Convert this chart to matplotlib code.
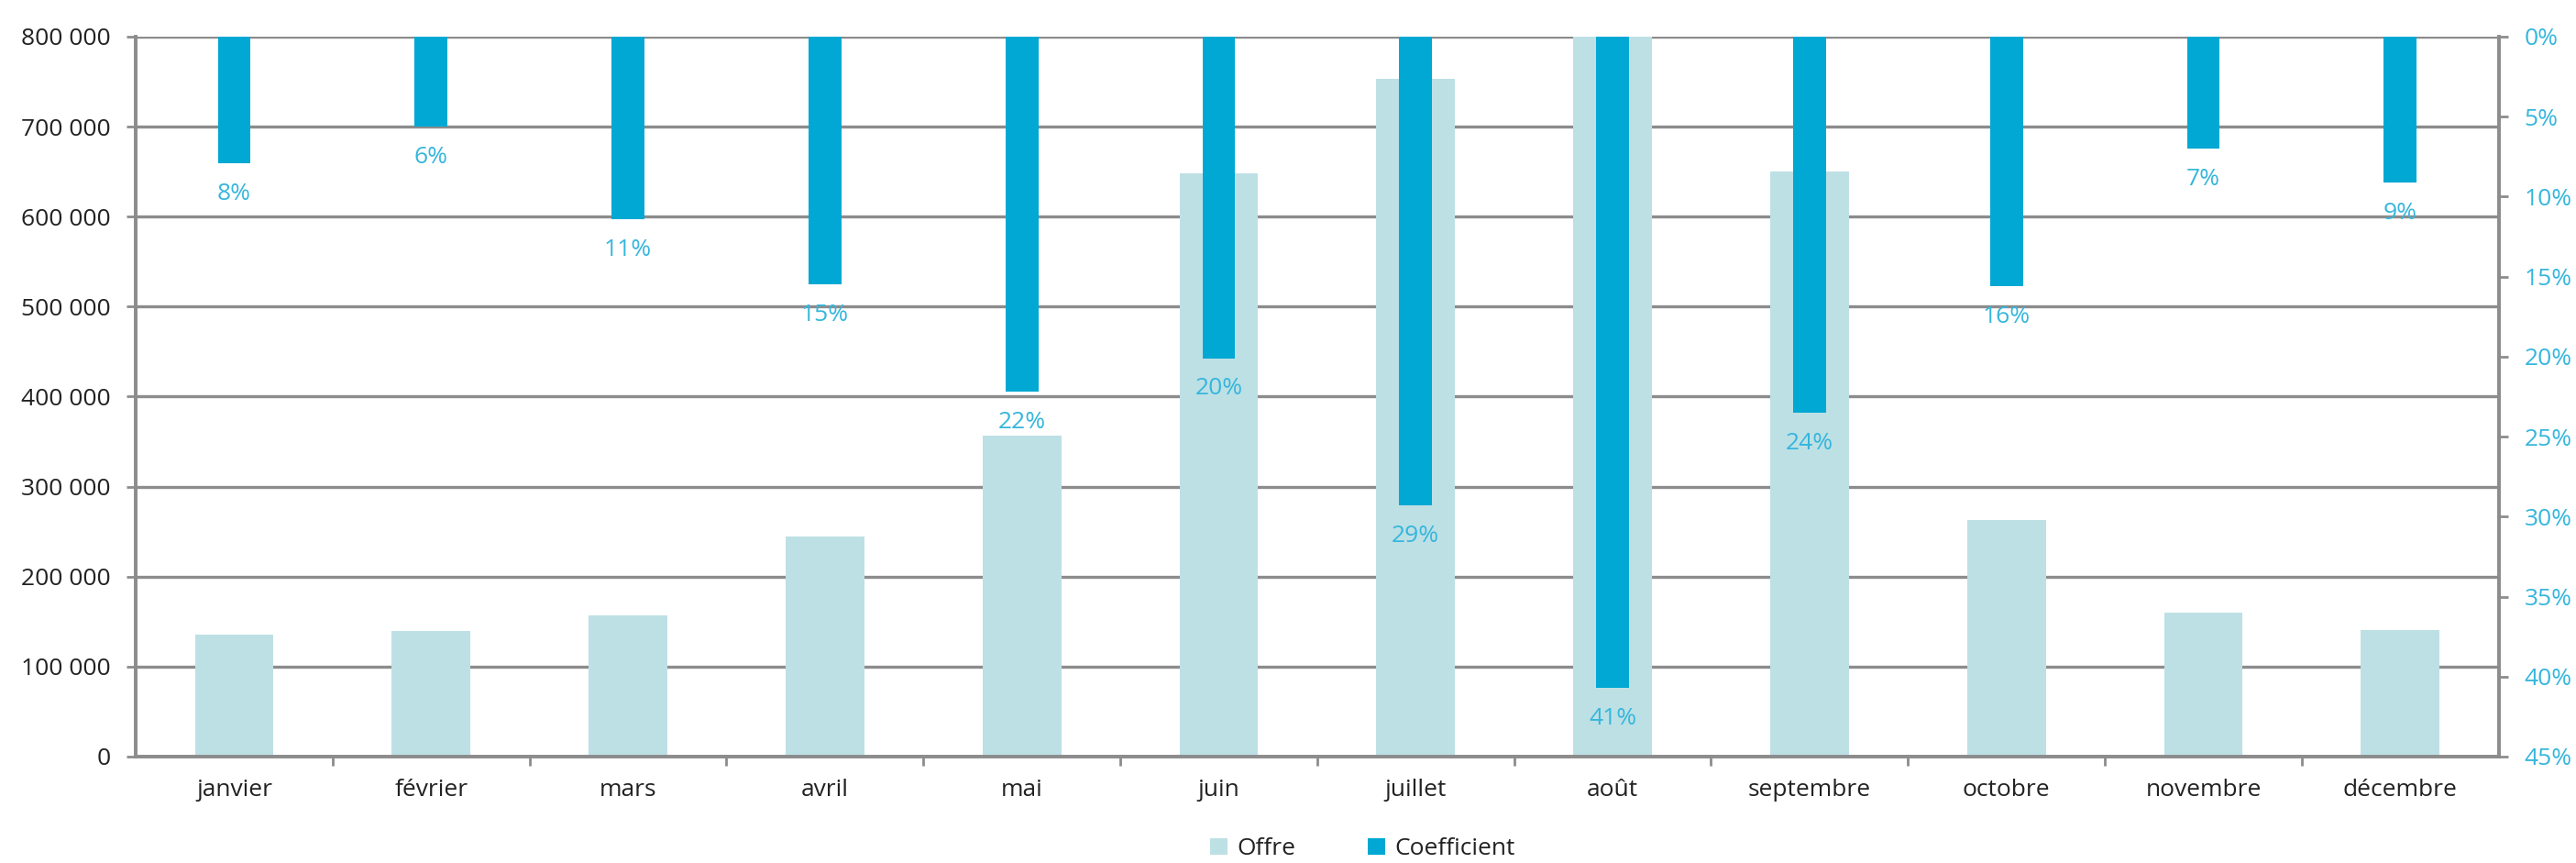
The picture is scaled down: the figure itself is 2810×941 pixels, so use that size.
import matplotlib
matplotlib.use("Agg")
import matplotlib.pyplot as plt
from matplotlib.ticker import FuncFormatter, MultipleLocator, FixedLocator
import numpy as np

months = ["janvier", "février", "mars", "avril", "mai", "juin", "juillet",
          "août", "septembre", "octobre", "novembre", "décembre"]
offre = [136000, 140000, 157000, 245000, 357000, 648000, 753000,
         810000, 650000, 263000, 160000, 141000]
coefficient = [0.079, 0.056, 0.114, 0.155, 0.222, 0.201, 0.293,
               0.407, 0.235, 0.156, 0.070, 0.091]
coef_labels = ["8%", "6%", "11%", "15%", "22%", "20%", "29%",
               "41%", "24%", "16%", "7%", "9%"]

plt.rcParams['font.family'] = ['Open Sans', 'DejaVu Sans']

C_OFFRE = "#bde0e5"
C_COEF = "#00a8d3"
C_LABEL = "#35b6dc"
C_GRID = "#8c8c8c"
C_TEXT = "#222222"
FS = 19

fig = plt.figure(figsize=(28.10, 9.41), dpi=100)
ax = fig.add_axes([0.0527, 0.1233, 0.9173, 0.8342])
x = np.arange(len(months))

ax.bar(x, offre, width=0.40, color=C_OFFRE, zorder=2, label="Offre")
ax.set_ylim(0, 800000)
ax.set_xlim(-0.5, len(months) - 0.5)
ax.yaxis.set_major_locator(MultipleLocator(100000))
ax.yaxis.set_major_formatter(FuncFormatter(lambda v, p: f"{int(v):,}".replace(",", " ")))
ax.grid(axis="y", color=C_GRID, linewidth=2.4, zorder=0)
ax.set_axisbelow(True)

ax.set_xticks(x)
ax.set_xticklabels(months)
ax.xaxis.set_minor_locator(FixedLocator(np.arange(0.5, len(months) - 1, 1.0)))
ax.tick_params(axis="x", which="major", length=0, pad=17, labelsize=FS, labelcolor=C_TEXT)
ax.tick_params(axis="x", which="minor", length=7, width=2, color=C_GRID, direction="out")
ax.tick_params(axis="y", length=7, width=2, color=C_GRID, labelsize=FS, labelcolor=C_TEXT, pad=13)

ax.spines["top"].set_visible(False)
for s in ["left", "bottom", "right"]:
    ax.spines[s].set_color(C_GRID)
    ax.spines[s].set_linewidth(2.6)

ax2 = ax.twinx()
ax2.bar(x, coefficient, width=0.167, color=C_COEF, zorder=3, label="Coefficient")
ax2.set_ylim(0.45, 0)
ax2.yaxis.set_major_locator(MultipleLocator(0.05))
ax2.yaxis.set_major_formatter(FuncFormatter(lambda v, p: f"{round(v * 100)}%"))
ax2.tick_params(axis="y", length=7, width=2, color=C_GRID, labelsize=FS, labelcolor=C_LABEL, pad=13)
ax2.spines["top"].set_visible(False)
for s in ["left", "bottom", "right"]:
    ax2.spines[s].set_color(C_GRID)
    ax2.spines[s].set_linewidth(2.6)

for xi, v, lab in zip(x, coefficient, coef_labels):
    ax2.annotate(lab, (xi, v), xytext=(0, -24), textcoords="offset points",
                 ha="center", va="center", fontsize=FS, color=C_LABEL)

h1, l1 = ax.get_legend_handles_labels()
h2, l2 = ax2.get_legend_handles_labels()
fig.legend(h1 + h2, l1 + l2, loc="center", bbox_to_anchor=(0.529, 0.016),
           ncol=2, frameon=False, fontsize=FS, handlelength=0.7, handleheight=0.7,
           columnspacing=3.0, handletextpad=0.4, labelcolor=C_TEXT,
           borderpad=0, borderaxespad=0)

fig.savefig("out.png", dpi=100, facecolor="white")
